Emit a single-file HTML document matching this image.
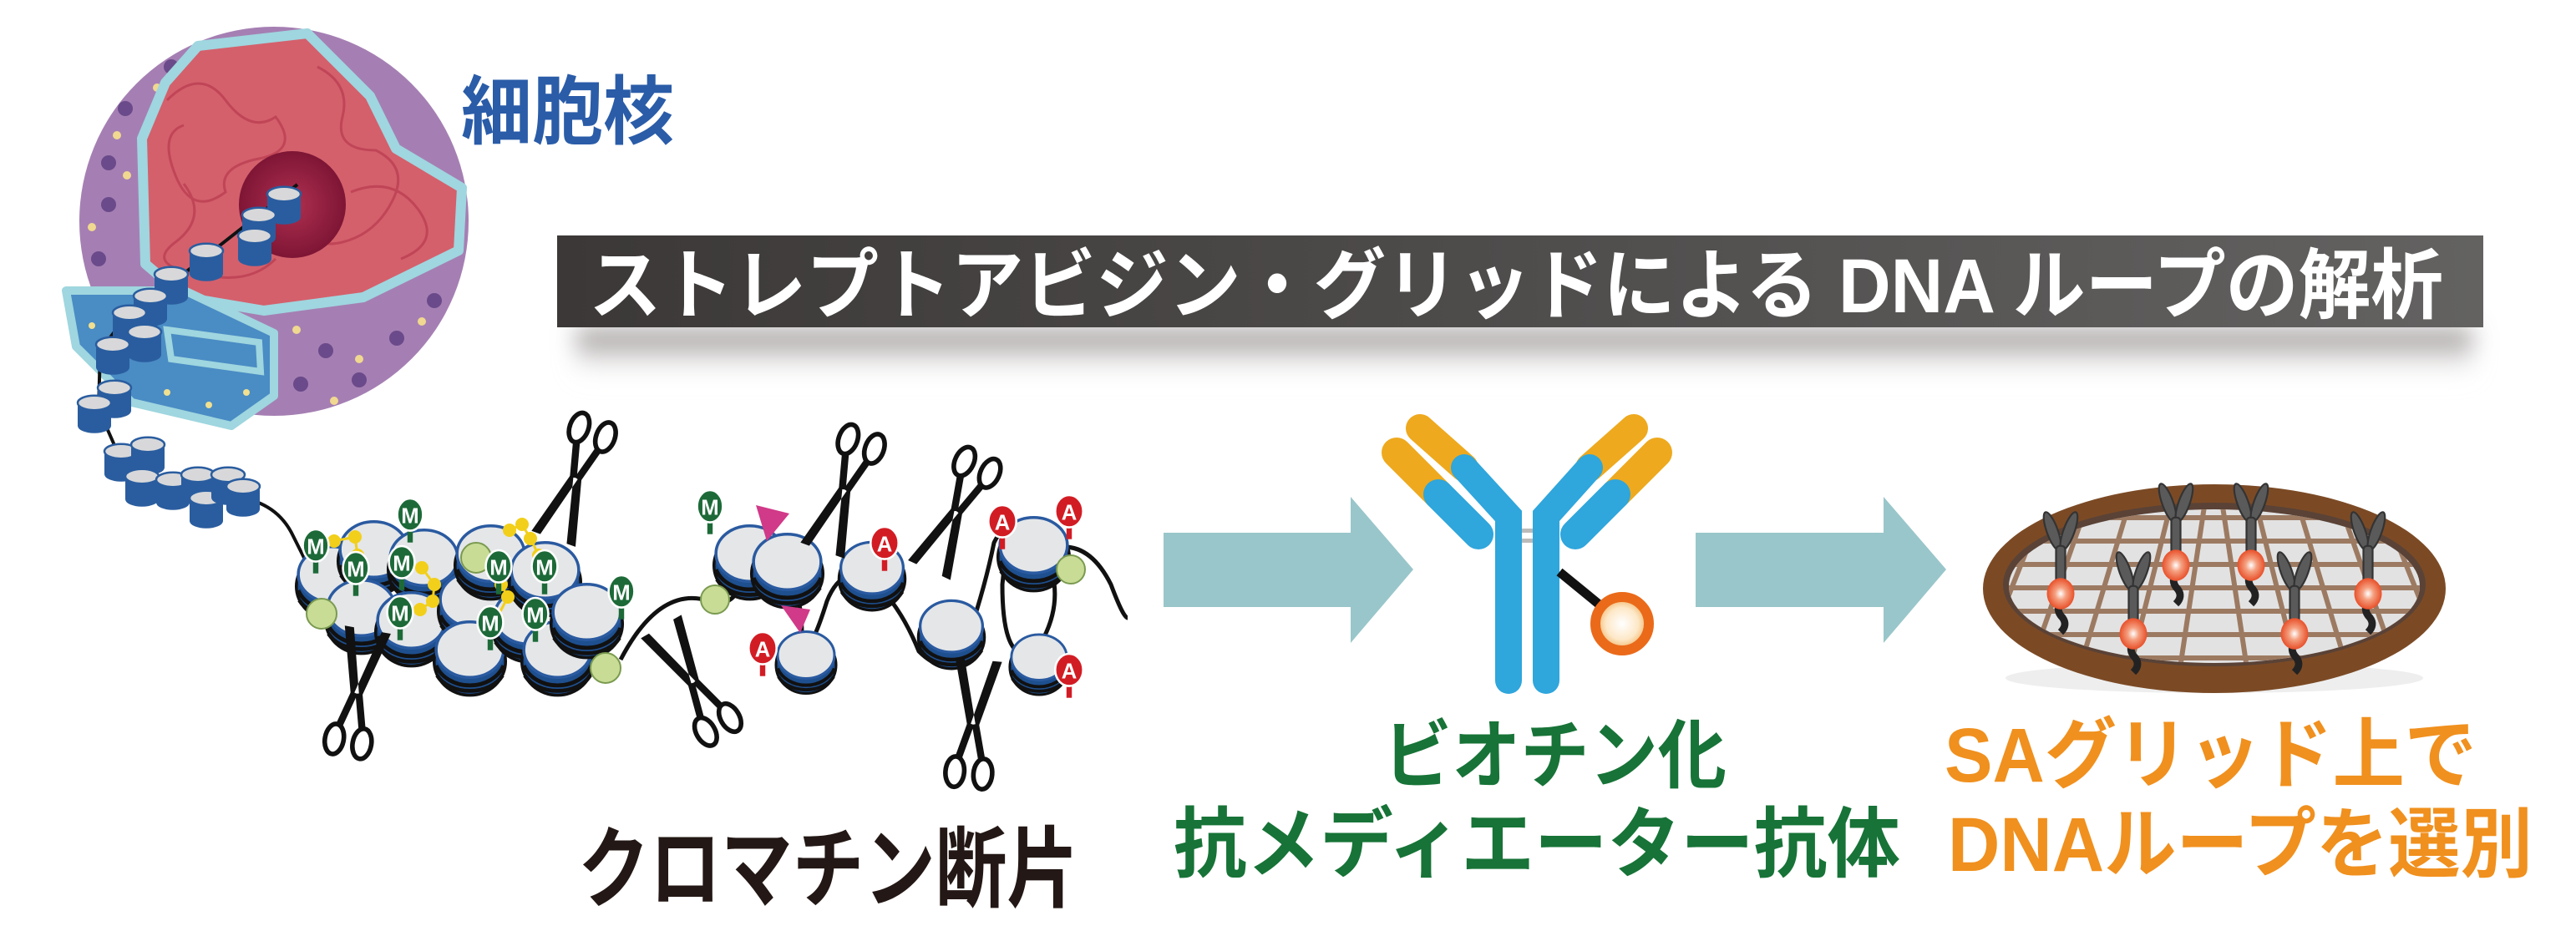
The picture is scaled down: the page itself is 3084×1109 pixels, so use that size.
<!DOCTYPE html>
<html><head><meta charset="utf-8">
<style>
html,body{margin:0;padding:0;background:#fff;}
svg{display:block;}
text{font-family:"Liberation Sans","Noto Sans CJK JP",sans-serif;font-weight:bold;}
</style></head>
<body>
<svg width="3084" height="1109" viewBox="0 0 3084 1109" xmlns="http://www.w3.org/2000/svg">
<defs>
  <linearGradient id="tg" x1="0" x2="1"><stop offset="0" stop-color="#3b3837"/><stop offset="1" stop-color="#636261"/></linearGradient>
  <linearGradient id="sh" x1="0" y1="0" x2="0" y2="1"><stop offset="0" stop-color="#6a6260" stop-opacity="0.9"/><stop offset="1" stop-color="#fff" stop-opacity="0"/></linearGradient>
  <filter id="blur" x="-10%" y="-50%" width="120%" height="200%"><feGaussianBlur stdDeviation="14"/></filter>
  <radialGradient id="bio"><stop offset="0" stop-color="#fff"/><stop offset="0.6" stop-color="#fde8c8"/><stop offset="1" stop-color="#f0b060"/></radialGradient>
  <radialGradient id="ob"><stop offset="0" stop-color="#fff"/><stop offset="0.4" stop-color="#f5a080"/><stop offset="1" stop-color="#e8502a"/></radialGradient>
  <radialGradient id="nuo"><stop offset="0" stop-color="#b03050"/><stop offset="1" stop-color="#7e1535"/></radialGradient>
  <symbol id="nuc" viewBox="-40 -40 80 80" overflow="visible">
    <ellipse cx="0" cy="4" rx="36" ry="34" fill="#1e4f8e" stroke="#111" stroke-width="3"/>
    <path d="M-34 8 A36 30 0 0 0 34 8" fill="none" stroke="#111" stroke-width="4"/>
    <path d="M-33 18 A36 26 0 0 0 33 18" fill="none" stroke="#111" stroke-width="4"/>
    <ellipse cx="0" cy="-8" rx="34" ry="28" fill="#e4e6e8" stroke="#2a5aa0" stroke-width="3"/>
  </symbol>
  <symbol id="bead" viewBox="-20 -20 40 40" overflow="visible">
    <rect x="-16" y="-10" width="32" height="22" fill="#2a5d9f"/>
    <ellipse cx="0" cy="12" rx="16" ry="7" fill="#2a5d9f"/>
    <ellipse cx="0" cy="-10" rx="16" ry="7" fill="#d8d8da" stroke="#2a5d9f" stroke-width="2"/>
  </symbol>
  <symbol id="sc" viewBox="-30 -60 60 120" overflow="visible">
    <path d="M-4 -5 L-20 55 L-12 55 L2 0 Z M4 -5 L20 55 L12 55 L-2 0 Z" fill="#111"/>
    <path d="M-2 0 L-10 -30" stroke="#111" stroke-width="6"/>
    <path d="M2 0 L10 -30" stroke="#111" stroke-width="6"/>
    <ellipse cx="-12" cy="-42" rx="8" ry="13" fill="none" stroke="#111" stroke-width="4"/>
    <ellipse cx="12" cy="-42" rx="8" ry="13" fill="none" stroke="#111" stroke-width="4"/>
  </symbol>
  <symbol id="mm" viewBox="-14 -14 28 40" overflow="visible">
    <line x1="0" y1="8" x2="0" y2="26" stroke="#1d6a38" stroke-width="5"/>
    <ellipse cx="0" cy="0" rx="12" ry="15" fill="#1d6a38" stroke="#fff" stroke-width="2"/>
    <text x="0" y="8" font-size="20" fill="#fff" text-anchor="middle">M</text>
  </symbol>
  <symbol id="aa" viewBox="-14 -14 28 40" overflow="visible">
    <line x1="0" y1="8" x2="0" y2="26" stroke="#d21c24" stroke-width="5"/>
    <ellipse cx="0" cy="0" rx="13" ry="15" fill="#d21c24" stroke="#fff" stroke-width="2"/>
    <text x="0" y="8" font-size="20" fill="#fff" text-anchor="middle">A</text>
  </symbol>
  <symbol id="miniab" viewBox="-30 -50 60 100" overflow="visible">
    <ellipse cx="-9" cy="-28" rx="6" ry="22" transform="rotate(-20 -9 -28)" fill="#5a5a5a" stroke="#333" stroke-width="2"/>
    <ellipse cx="9" cy="-28" rx="6" ry="22" transform="rotate(20 9 -28)" fill="#5a5a5a" stroke="#333" stroke-width="2"/>
    <rect x="-5" y="-12" width="10" height="42" rx="4" fill="#5a5a5a" stroke="#333" stroke-width="2"/>
    <path d="M0 48 q-6 10 2 18 q6 8 -2 16" stroke="#222" stroke-width="8" fill="none"/>
    <ellipse cx="0" cy="40" rx="15" ry="17" fill="url(#ob)"/>
  </symbol>
</defs>

<!-- Title bar -->
<rect x="690" y="395" width="2270" height="60" fill="url(#sh)" filter="url(#blur)"/>
<rect x="667" y="282" width="2306" height="110" fill="url(#tg)"/>
<text x="705" y="374" font-size="92" fill="#fff" textLength="2220" lengthAdjust="spacingAndGlyphs">ストレプトアビジン・グリッドによる DNA ループの解析</text>

<!-- 細胞核 -->
<text x="552" y="165" font-size="90" fill="#2a5ca8" textLength="255" lengthAdjust="spacingAndGlyphs">細胞核</text>

<!-- Cell -->
<circle cx="328" cy="265" r="233" fill="#a57fb3"/>
<g fill="#6a4a8a">
 <circle cx="205" cy="80" r="9"/><circle cx="150" cy="130" r="9"/><circle cx="130" cy="195" r="9"/><circle cx="130" cy="245" r="9"/><circle cx="118" cy="310" r="9"/>
 <circle cx="390" cy="420" r="9"/><circle cx="475" cy="405" r="9"/><circle cx="520" cy="360" r="9"/><circle cx="360" cy="460" r="9"/><circle cx="430" cy="455" r="9"/>
</g>
<g fill="#f0d890"><circle cx="188" cy="105" r="5"/><circle cx="140" cy="162" r="5"/><circle cx="152" cy="210" r="5"/><circle cx="110" cy="272" r="5"/><circle cx="355" cy="395" r="5"/><circle cx="430" cy="430" r="5"/><circle cx="505" cy="385" r="5"/><circle cx="400" cy="480" r="5"/></g>
<path d="M237 55 L368 40 L443 115 L474 178 L553 225 L549 300 L435 356 L316 372 L221 356 L174 316 L170 166 L198 99 Z" fill="#d4606c" stroke="#9fd6df" stroke-width="12" stroke-linejoin="round"/>
<g fill="none" stroke="#b83a4e" stroke-width="3" opacity="0.7">
 <path d="M200 120 q40 -40 70 0 t60 20 q30 40 -20 50 t-40 40 q-40 30 -60 -20 t10 -60"/>
 <path d="M380 80 q40 20 30 60 t40 40 q40 20 20 60 t-60 50 q-40 10 -50 -30"/>
 <path d="M220 220 q30 40 -10 70 t40 40 q50 10 80 -20"/>
 <path d="M420 230 q50 -20 80 20 t-20 60"/>
</g>
<circle cx="350" cy="245" r="64" fill="url(#nuo)"/>
<path d="M79 348 L221 348 L328 399 L328 474 L277 510 L158 482 L91 415 Z" fill="#4a8cc4" stroke="#9fd6df" stroke-width="10" stroke-linejoin="round"/>
<path d="M200 395 L310 410 L312 445 L205 430 Z" fill="none" stroke="#9fd6df" stroke-width="8"/>
<g fill="#f0e090"><circle cx="110" cy="390" r="4"/><circle cx="150" cy="440" r="4"/><circle cx="200" cy="470" r="4"/><circle cx="250" cy="485" r="4"/><circle cx="295" cy="470" r="4"/><circle cx="175" cy="410" r="4"/></g>
<!-- chain -->
<path d="M356 221 L230 320 L150 380 L120 420 L118 490 L140 540 L200 580 L280 595 Q330 600 350 640 L380 700" fill="none" stroke="#111" stroke-width="4"/>
<use href="#bead" x="315" y="220" width="50" height="50"/>
<use href="#bead" x="285" y="245" width="50" height="50"/>
<use href="#bead" x="280" y="270" width="50" height="50"/>
<use href="#bead" x="222" y="288" width="50" height="50"/>
<use href="#bead" x="180" y="316" width="50" height="50"/>
<use href="#bead" x="155" y="342" width="50" height="50"/>
<use href="#bead" x="130" y="362" width="50" height="50"/>
<use href="#bead" x="148" y="385" width="50" height="50"/>
<use href="#bead" x="110" y="400" width="50" height="50"/>
<use href="#bead" x="112" y="452" width="50" height="50"/>
<use href="#bead" x="88" y="470" width="50" height="50"/>
<use href="#bead" x="120" y="528" width="50" height="50"/>
<use href="#bead" x="152" y="520" width="50" height="50"/>
<use href="#bead" x="145" y="558" width="50" height="50"/>
<use href="#bead" x="182" y="562" width="50" height="50"/>
<use href="#bead" x="212" y="556" width="50" height="50"/>
<use href="#bead" x="222" y="584" width="50" height="50"/>
<use href="#bead" x="248" y="556" width="50" height="50"/>
<use href="#bead" x="266" y="570" width="50" height="50"/>

<!-- chromatin cluster -->
<path d="M743 790 Q790 700 850 720 Q880 730 890 690" fill="none" stroke="#111" stroke-width="5"/>
<use href="#nuc" x="350" y="650" width="95" height="95"/>
<use href="#nuc" x="400" y="620" width="95" height="95"/>
<use href="#nuc" x="385" y="690" width="95" height="95"/>
<use href="#nuc" x="460" y="630" width="95" height="95"/>
<use href="#nuc" x="445" y="705" width="95" height="95"/>
<use href="#nuc" x="520" y="680" width="95" height="95"/>
<use href="#nuc" x="540" y="625" width="95" height="95"/>
<use href="#nuc" x="515" y="740" width="95" height="95"/>
<use href="#nuc" x="585" y="700" width="95" height="95"/>
<use href="#nuc" x="605" y="645" width="95" height="95"/>
<use href="#nuc" x="620" y="740" width="95" height="95"/>
<use href="#nuc" x="655" y="695" width="95" height="95"/>
<g fill="#c8dc96" stroke="#7a9a50" stroke-width="2"><circle cx="385" cy="735" r="18"/><circle cx="570" cy="668" r="18"/><circle cx="725" cy="800" r="18"/></g>
<g fill="none" stroke="#f2cf1a" stroke-width="3"><path d="M400 648 L425 643 L428 665 L425 690"/><path d="M505 680 L520 700 L518 720 L503 730"/><path d="M610 635 L625 628 L635 645 L645 665"/><path d="M600 700 L608 715 L595 740"/></g>
<g fill="#f2cf1a"><circle cx="400" cy="648" r="8"/><circle cx="425" cy="643" r="8"/><circle cx="428" cy="665" r="8"/><circle cx="425" cy="690" r="8"/><circle cx="505" cy="680" r="8"/><circle cx="520" cy="700" r="8"/><circle cx="518" cy="720" r="8"/><circle cx="503" cy="730" r="8"/><circle cx="610" cy="635" r="8"/><circle cx="625" cy="628" r="8"/><circle cx="635" cy="645" r="8"/><circle cx="645" cy="665" r="8"/><circle cx="600" cy="700" r="8"/><circle cx="608" cy="715" r="8"/><circle cx="595" cy="740" r="8"/></g>
<use href="#mm" x="360" y="635" width="36" height="52"/>
<use href="#mm" x="408" y="662" width="36" height="52"/>
<use href="#mm" x="473" y="598" width="36" height="52"/>
<use href="#mm" x="463" y="655" width="36" height="52"/>
<use href="#mm" x="461" y="715" width="36" height="52"/>
<use href="#mm" x="579" y="660" width="36" height="52"/>
<use href="#mm" x="634" y="660" width="36" height="52"/>
<use href="#mm" x="569" y="727" width="36" height="52"/>
<use href="#mm" x="623" y="717" width="36" height="52"/>
<use href="#mm" x="726" y="690" width="36" height="52"/>

<!-- right chromatin -->
<path d="M890 690 Q960 660 960 760 Q965 800 990 720 Q1010 670 1050 700 Q1080 730 1100 780 Q1140 820 1160 760 Q1180 700 1190 650 Q1210 610 1200 700 Q1200 800 1240 780 Q1280 720 1250 660 Q1300 640 1330 700 Q1345 740 1350 740" fill="none" stroke="#111" stroke-width="5"/>
<use href="#nuc" x="850" y="625" width="95" height="95"/>
<use href="#nuc" x="895" y="635" width="95" height="95"/>
<use href="#nuc" x="925" y="745" width="80" height="95"/>
<use href="#nuc" x="1000" y="645" width="88" height="88"/>
<use href="#nuc" x="1095" y="715" width="88" height="88"/>
<use href="#nuc" x="1190" y="615" width="95" height="95"/>
<use href="#nuc" x="1205" y="750" width="78" height="90"/>
<circle cx="856" cy="718" r="17" fill="#c8dc96" stroke="#7a9a50" stroke-width="2"/>
<circle cx="1282" cy="682" r="17" fill="#c8dc96" stroke="#7a9a50" stroke-width="2"/>
<use href="#mm" x="832" y="588" width="36" height="52"/>
<path d="M905 605 L945 615 L918 648 Z" fill="#d03a88"/>
<path d="M935 725 L970 730 L958 758 Z" fill="#d03a88"/>
<use href="#aa" x="895" y="758" width="36" height="52"/>
<use href="#aa" x="1041" y="632" width="36" height="52"/>
<use href="#aa" x="1182" y="606" width="36" height="52"/>
<use href="#aa" x="1262" y="594" width="36" height="52"/>
<use href="#aa" x="1262" y="784" width="36" height="52"/>
<!-- scissors -->
<use href="#sc" x="647" y="489" width="84" height="168" transform="rotate(20 689 573)"/>
<use href="#sc" x="385" y="746" width="84" height="168" transform="rotate(190 427 830)"/>
<use href="#sc" x="788" y="733" width="84" height="168" transform="rotate(150 830 817)"/>
<use href="#sc" x="969" y="503" width="84" height="168" transform="rotate(20 1011 587)"/>
<use href="#sc" x="1103" y="529" width="84" height="168" transform="rotate(25 1145 613)"/>
<use href="#sc" x="1123" y="783" width="84" height="168" transform="rotate(185 1165 867)"/>

<!-- arrows -->
<path d="M1393 638 L1617 638 L1617 595 L1692 682 L1617 770 L1617 727 L1393 727 Z" fill="#99c6ca"/>
<path d="M2030 638 L2255 638 L2255 595 L2330 682 L2255 770 L2255 727 L2030 727 Z" fill="#99c6ca"/>

<!-- antibody -->
<g stroke-linecap="round" fill="none">
 <line x1="1775" y1="600" x2="1782" y2="610" stroke="#aab" stroke-width="6"/>
 <line x1="1880" y1="600" x2="1873" y2="610" stroke="#aab" stroke-width="6"/>
 <line x1="1672" y1="542" x2="1722" y2="592" stroke="#eea91e" stroke-width="36"/>
 <line x1="1722" y1="592" x2="1770" y2="640" stroke="#2fa6dc" stroke-width="36"/>
 <line x1="1700" y1="513" x2="1753" y2="560" stroke="#eea91e" stroke-width="34"/>
 <path d="M1753 560 L1806 618 L1806 815" stroke="#2fa6dc" stroke-width="32"/>
 <line x1="1984" y1="542" x2="1934" y2="592" stroke="#eea91e" stroke-width="36"/>
 <line x1="1934" y1="592" x2="1886" y2="640" stroke="#2fa6dc" stroke-width="36"/>
 <line x1="1956" y1="513" x2="1903" y2="560" stroke="#eea91e" stroke-width="34"/>
 <path d="M1903 560 L1851 618 L1851 815" stroke="#2fa6dc" stroke-width="32"/>
</g>
<rect x="1822" y="633" width="13" height="5" fill="#bbb"/><rect x="1822" y="645" width="13" height="5" fill="#bbb"/>
<line x1="1867" y1="685" x2="1922" y2="730" stroke="#111" stroke-width="11"/>
<circle cx="1942" cy="747" r="32" fill="url(#bio)" stroke="#ea6a1a" stroke-width="12"/>

<!-- dish -->
<ellipse cx="2651" cy="812" rx="250" ry="18" fill="#ddd" opacity="0.5"/>
<ellipse cx="2651" cy="705" rx="277" ry="125" fill="#7b4a25"/>
<ellipse cx="2651" cy="700" rx="253" ry="98" fill="#5a4236"/>
<clipPath id="dc"><ellipse cx="2651" cy="702" rx="246" ry="92"/></clipPath>
<g clip-path="url(#dc)">
 <rect x="2390" y="600" width="530" height="200" fill="#e2e2e2"/>
 <g stroke="#9c7a62" stroke-width="6">
  <line x1="2380" y1="620" x2="2920" y2="620"/><line x1="2380" y1="648" x2="2920" y2="648"/><line x1="2380" y1="676" x2="2920" y2="676"/><line x1="2380" y1="704" x2="2920" y2="704"/><line x1="2380" y1="732" x2="2920" y2="732"/><line x1="2380" y1="760" x2="2920" y2="760"/><line x1="2380" y1="788" x2="2920" y2="788"/>
  <line x1="2450" y1="600" x2="2370" y2="800"/><line x1="2500" y1="600" x2="2430" y2="800"/><line x1="2550" y1="600" x2="2490" y2="800"/><line x1="2600" y1="600" x2="2550" y2="800"/><line x1="2640" y1="600" x2="2610" y2="800"/>
  <line x1="2660" y1="600" x2="2690" y2="800"/><line x1="2700" y1="600" x2="2750" y2="800"/><line x1="2750" y1="600" x2="2810" y2="800"/><line x1="2800" y1="600" x2="2870" y2="800"/><line x1="2850" y1="600" x2="2930" y2="800"/>
 </g>
</g>
<use href="#miniab" x="2434" y="612" width="66" height="110"/>
<use href="#miniab" x="2521" y="660" width="66" height="110"/>
<use href="#miniab" x="2572" y="578" width="66" height="110"/>
<use href="#miniab" x="2662" y="578" width="66" height="110"/>
<use href="#miniab" x="2714" y="660" width="66" height="110"/>
<use href="#miniab" x="2802" y="612" width="66" height="110"/>

<!-- labels -->
<text x="692" y="1078" font-size="106" fill="#231815" textLength="599" lengthAdjust="spacingAndGlyphs">クロマチン断片</text>
<text x="1656" y="936" font-size="90" fill="#177337" textLength="411" lengthAdjust="spacingAndGlyphs">ビオチン化</text>
<text x="1405" y="1043" font-size="92" fill="#177337" textLength="870" lengthAdjust="spacingAndGlyphs">抗メディエーター抗体</text>
<text x="2328" y="936" font-size="92" fill="#f0901e" textLength="637" lengthAdjust="spacingAndGlyphs">SAグリッド上で</text>
<text x="2332" y="1043" font-size="92" fill="#f0901e" textLength="700" lengthAdjust="spacingAndGlyphs">DNAループを選別</text>
</svg>
</body></html>
